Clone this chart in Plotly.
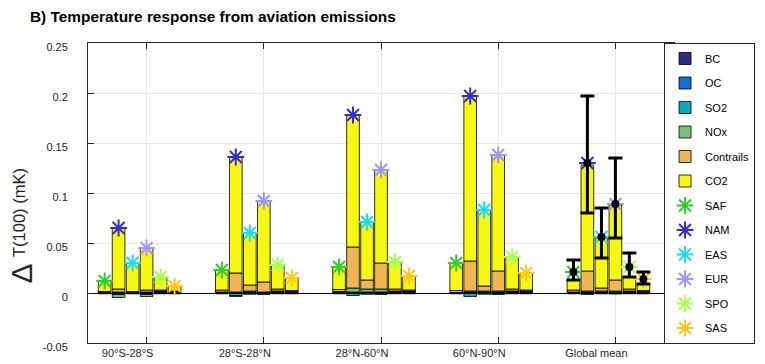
import plotly.graph_objects as go

# ---------------- data ----------------
groups = ["90°S-28°S", "28°S-28°N", "28°N-60°N", "60°N-90°N", "Global mean"]
regions = ["SAF", "NAM", "EAS", "EUR", "SPO", "SAS"]
components = ["BC", "OC", "SO2", "NOx", "Contrails", "CO2"]

# rows = latitude band (groups), columns = emission region (regions); values in mK
bc = [
    [0.0005, 0.001, 0.0005, 0.001, 0.002, 0.0015],
    [0.001, 0.001, 0.001, 0.001, 0.002, 0.0015],
    [0.0005, 0.001, 0.001, 0.001, 0.002, 0.002],
    [0.0005, 0.001, 0.001, 0.001, 0.002, 0.002],
    [0.001, 0.001, 0.001, 0.001, 0.002, 0.0015],
]
oc = [
    [-0.0003, -0.0005, -0.0003, -0.0005, -0.0003, -0.0003],
    [-0.0003, -0.0005, -0.0003, -0.0005, -0.0003, -0.0003],
    [-0.0003, -0.0005, -0.0003, -0.0005, -0.0003, -0.0003],
    [-0.0003, -0.0005, -0.0003, -0.0005, -0.0003, -0.0003],
    [-0.0003, -0.0005, -0.0003, -0.0005, -0.0003, -0.0003],
]
so2 = [
    [-0.0005, -0.001, -0.0005, -0.001, -0.0005, -0.0005],
    [-0.0005, -0.002, -0.001, -0.001, -0.0005, -0.0005],
    [-0.0005, -0.002, -0.001, -0.001, -0.0005, -0.0005],
    [-0.0005, -0.003, -0.001, -0.001, -0.0005, -0.0005],
    [-0.0005, -0.001, -0.0005, -0.0005, -0.0005, -0.0005],
]
nox = [
    [0.0, -0.003, 0.0, -0.002, 0.0, 0.0],
    [0.0, -0.001, 0.001, 0.0, 0.0, 0.0],
    [0.001, 0.004, 0.003, 0.003, 0.0, 0.0],
    [0.0, 0.001, 0.001, 0.001, 0.0, 0.0],
    [0.0, 0.001, 0.001, 0.001, 0.0, 0.0],
]
contrails = [
    [0.001, 0.003, 0.001, 0.002, 0.001, 0.0005],
    [0.002, 0.019, 0.006, 0.010, 0.002, 0.001],
    [0.002, 0.041, 0.009, 0.026, 0.002, 0.001],
    [0.002, 0.030, 0.005, 0.020, 0.002, 0.001],
    [0.002, 0.020, 0.003, 0.011, 0.002, 0.001],
]
co2 = [
    [0.0105, 0.061, 0.0285, 0.042, 0.013, 0.005],
    [0.020, 0.116, 0.052, 0.081, 0.024, 0.0125],
    [0.0225, 0.132, 0.058, 0.093, 0.027, 0.014],
    [0.0275, 0.165, 0.076, 0.116, 0.032, 0.017],
    [0.010, 0.106, 0.050, 0.075, 0.012, 0.0065],
]
# total response per region (star markers)
total = [
    [0.012, 0.065, 0.030, 0.045, 0.016, 0.007],
    [0.023, 0.136, 0.060, 0.092, 0.028, 0.015],
    [0.026, 0.178, 0.071, 0.123, 0.031, 0.017],
    [0.030, 0.197, 0.083, 0.138, 0.036, 0.020],
    [0.021, 0.130, 0.056, 0.089, 0.026, 0.014],
]
# global-mean uncertainty range
global_low = [0.013, 0.080, 0.035, 0.055, 0.016, 0.009]
global_high = [0.033, 0.197, 0.085, 0.135, 0.040, 0.021]

y_ticks = [-0.05, 0, 0.05, 0.1, 0.15, 0.2, 0.25]
y_ticktext = ["-0.05", "0", "0.05", "0.1", "0.15", "0.2", "0.25"]

# ---------------- style ----------------
comp_colors = ["#302b85", "#1170d8", "#0aa8c2", "#7bbf7e", "#f0b653", "#f7f714"]
region_colors = ["#33cc33", "#3030cc", "#1ed8ff", "#a096ff", "#aaff55", "#ffc81e"]
group_pos = [1, 2, 3, 4, 5]
offsets = [-0.358, -0.239, -0.119, 0.0, 0.119, 0.239]
bar_w = 0.108
FONT = "Arial, Liberation Sans, sans-serif"
AX = "#262626"

W, H = 765, 364
L, R, T, B = 88, 91, 43, 21
pw, ph = W - L - R, H - T - B

xs = [g + o for g in group_pos for o in offsets]


def flat(a):
    return [v for row in a for v in row]


fig = go.Figure()
for name, vals, col in zip(components, [bc, oc, so2, nox, contrails, co2], comp_colors):
    fig.add_trace(go.Bar(
        x=xs, y=flat(vals), width=bar_w, name=name, legendgroup=name,
        marker=dict(color=col, line=dict(color="black", width=0.8)),
    ))

for j, (reg, col) in enumerate(zip(regions, region_colors)):
    fig.add_trace(go.Scatter(
        x=[g + offsets[j] for g in group_pos],
        y=[total[i][j] for i in range(len(group_pos))],
        mode="markers", name=reg, legendgroup=reg,
        marker=dict(symbol="asterisk-open", size=14, color=col,
                    line=dict(color=col, width=2)),
    ))

gm = total[-1]
fig.add_trace(go.Scatter(
    x=[group_pos[-1] + o for o in offsets], y=gm, mode="markers",
    showlegend=False, legendgroup="err",
    marker=dict(color="black", size=8),
    error_y=dict(type="data", symmetric=False,
                 array=[h - v for h, v in zip(global_high, gm)],
                 arrayminus=[v - l for v, l in zip(gm, global_low)],
                 color="black", thickness=3, width=7),
))


def px_to_paper(px, py):
    return (px - L) / pw, (H - B - py) / ph


dx, dy = px_to_paper(21, 273.5)
tx, ty = px_to_paper(19, 213)

fig.update_layout(
    width=W, height=H,
    margin=dict(l=L, r=R, t=T, b=B, autoexpand=False),
    paper_bgcolor="white", plot_bgcolor="white",
    barmode="relative",
    font=dict(family=FONT, size=11, color=AX),
    title=dict(text="<b>B) Temperature response from aviation emissions</b>",
               x=30 / W, xanchor="left", xref="container",
               y=1 - 17 / H, yanchor="middle", yref="container",
               font=dict(family=FONT, size=15.4, color="black")),
    xaxis=dict(range=[0.5, 5.5], tickvals=group_pos, ticktext=groups,
               ticks="inside", ticklen=6, tickcolor=AX, mirror="ticks",
               showline=True, linecolor=AX, linewidth=1,
               showgrid=True, gridcolor="#e6e6e6", zeroline=False,
               tickfont=dict(size=11, color=AX), automargin=False,
               ticklabelshift=-19, ticklabelstandoff=0),
    yaxis=dict(range=[-0.05, 0.25], tickvals=y_ticks, ticktext=y_ticktext,
               ticks="inside", ticklen=6, tickcolor=AX, mirror="ticks",
               showline=True, linecolor=AX, linewidth=1,
               showgrid=True, gridcolor="#e6e6e6",
               zeroline=True, zerolinecolor="black", zerolinewidth=1,
               tickfont=dict(size=11, color=AX), automargin=False,
               ticklabelstandoff=17, ticklabelshift=4),
    legend=dict(x=0.983, y=1.0, xanchor="left", yanchor="top",
                bgcolor="white", bordercolor=AX, borderwidth=1,
                font=dict(size=11, color="black"), tracegroupgap=5.5,
                traceorder="grouped", maxheight=340),
    annotations=[
        dict(text="Δ", textangle=-90, x=dx, y=dy, xref="paper", yref="paper",
             xanchor="center", yanchor="middle", showarrow=False,
             font=dict(size=30, color=AX)),
        dict(text="T(100) (mK)", textangle=-90, x=tx, y=ty, xref="paper",
             yref="paper", xanchor="center", yanchor="middle", showarrow=False,
             font=dict(size=16.5, color=AX)),
    ],
)

fig.write_html("out.html")
